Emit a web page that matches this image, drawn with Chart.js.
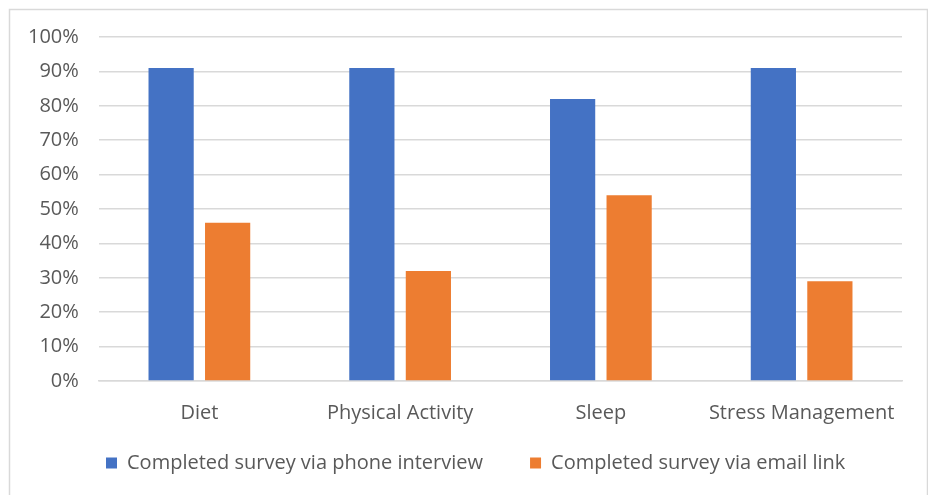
<!DOCTYPE html>
<html>
<head>
<meta charset="utf-8">
<script src="https://cdn.jsdelivr.net/npm/chart.js@4/dist/chart.umd.min.js"></script>
<style>
  html, body { margin: 0; padding: 0; background: #ffffff; }
  #wrap { width: 928px; height: 495px; position: relative; }
</style>
</head>
<body>
<div id="wrap"><canvas id="c" width="928" height="495"></canvas></div>
<script>
const categories = ['Diet', 'Physical Activity', 'Sleep', 'Stress Management'];
const phoneValues = [91, 91, 82, 91];
const emailValues = [46, 32, 54, 29];
const seriesNames = ['Completed survey via phone interview', 'Completed survey via email link'];
const yTicks = [0, 10, 20, 30, 40, 50, 60, 70, 80, 90, 100];

const FONT = "'Open Sans', sans-serif";
const TEXT = '#595959';

const frame = {
  id: 'frame',
  beforeDraw(chart) {
    const ctx = chart.ctx;
    ctx.save();
    ctx.fillStyle = '#ffffff';
    ctx.fillRect(0, 0, chart.width, chart.height);
    ctx.strokeStyle = '#d9d9d9';
    ctx.lineWidth = 1.5;
    ctx.strokeRect(9.5, 9.5, 918, 600);
    ctx.restore();
  }
};

const legendHeight = {
  id: 'legendHeight',
  beforeLayout(chart) {
    const lg = chart.legend;
    if (lg && !lg._patched) {
      const orig = lg.fit.bind(lg);
      lg.fit = function () { orig(); this.height = 89; };
      lg._patched = true;
    }
  }
};

new Chart(document.getElementById('c'), {
  type: 'bar',
  data: {
    labels: categories,
    datasets: [
      { label: seriesNames[0], data: phoneValues, backgroundColor: '#4472C4', borderWidth: 0,
        categoryPercentage: 0.563, barPercentage: 0.8 },
      { label: seriesNames[1], data: emailValues, backgroundColor: '#ED7D31', borderWidth: 0,
        categoryPercentage: 0.563, barPercentage: 0.8 }
    ]
  },
  plugins: [frame, legendHeight],
  options: {
    responsive: false,
    animation: false,
    devicePixelRatio: 1,
    layout: { padding: { left: 59, right: 26, top: 37, bottom: 0 } },
    plugins: {
      tooltip: { enabled: false },
      legend: {
        position: 'bottom',
        align: 'start',
        fullSize: true,
        labels: {
          boxWidth: 11,
          boxHeight: 11,
          padding: 47,
          color: TEXT,
          font: { family: FONT, size: 20 }
        }
      }
    },
    scales: {
      x: {
        grid: { display: false, drawTicks: false },
        border: { display: true, color: '#d9d9d9', width: 1.5 },
        ticks: { color: TEXT, font: { family: FONT, size: 20 }, padding: -44, mirror: true, maxRotation: 0 },
        afterFit(s) { s.height = 25; }
      },
      y: {
        min: 0, max: 100,
        afterBuildTicks(s) { s.ticks = yTicks.map(v => ({ value: v })); },
        grid: { color: '#d9d9d9', lineWidth: 1.5, drawTicks: false },
        border: { display: false },
        ticks: { color: TEXT, font: { family: FONT, size: 20 }, mirror: true, crossAlign: 'far', padding: -71,
                 callback: v => v + '%' },
        afterFit(s) { s.width = 40; }
      }
    }
  }
});
</script>
</body>
</html>
